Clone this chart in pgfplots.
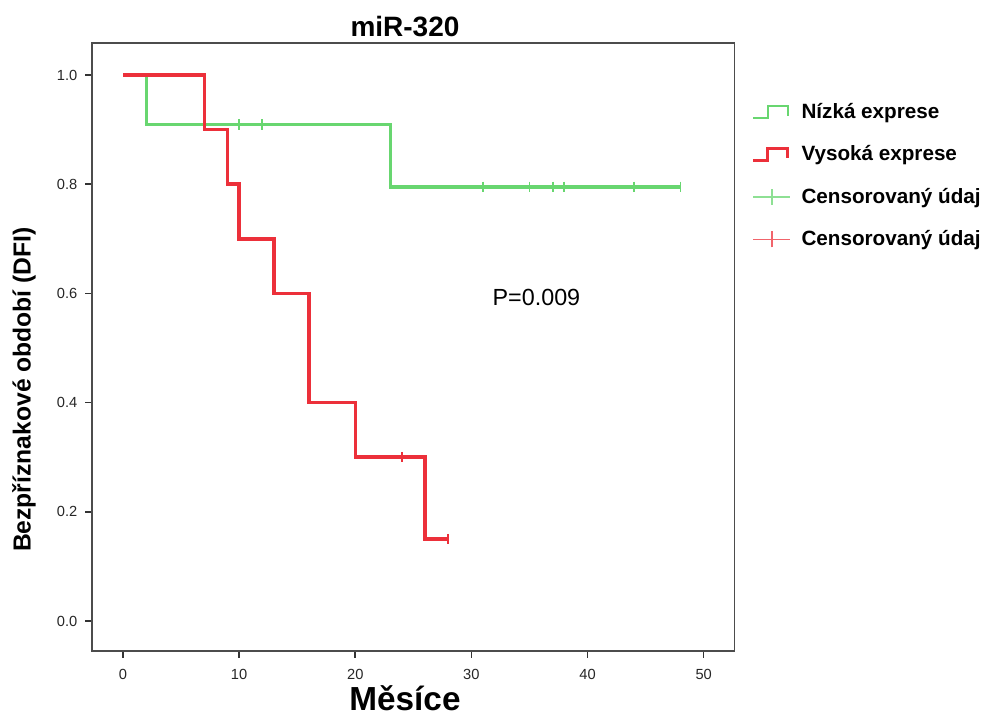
\documentclass[border=0pt]{standalone}
\usepackage{fontspec}
\setmainfont{Liberation Sans}
\usepackage{pgfplots}
\pgfplotsset{compat=1.18}

\definecolor{lowgreen}{RGB}{104,214,112}
\definecolor{highred}{RGB}{236,48,58}

\begin{document}
\begin{tikzpicture}
  \begin{axis}[
      scale only axis,
      width=482pt, height=456pt,
      xmin=-2.67, xmax=52.67,
      ymin=-0.055, ymax=1.0586,
      xtick={0,10,20,30,40,50},
      ytick={0,0.2,0.4,0.6,0.8,1.0},
      yticklabel style={/pgf/number format/fixed, /pgf/number format/fixed zerofill,
        /pgf/number format/precision=1, xshift=-2.5pt},
      xticklabel style={yshift=-5pt},
      /pgf/number format/assume math mode=true,
      tick label style={font=\fontsize{11}{13}\selectfont, text=black!85},
      tick align=outside, xtick pos=left, ytick pos=left,
      major tick length=5pt,
      every tick/.style={black!80, line width=1.2pt},
      axis line style={black!70, line width=1.1pt},
      title={miR-320},
      title style={font=\fontsize{21}{25}\selectfont\bfseries,
        at={(axis description cs:0.487,1.0145)}, anchor=center},
      xlabel={Měsíce},
      xlabel style={font=\fontsize{25}{29}\selectfont\bfseries,
        at={(axis description cs:0.487,-0.077)}, anchor=center},
      ylabel={Bezpříznakové období (DFI)},
      ylabel style={font=\fontsize{18.5}{22}\selectfont\bfseries,
        at={(axis description cs:-0.106,0.43)}, anchor=center},
      legend style={draw=none, fill=none, at={(rel axis cs:1.02,0.91)},
        anchor=north west, font=\fontsize{15.5}{18}\selectfont\bfseries,
        row sep=15pt, cells={anchor=west}},
    ]
    \coordinate (ll) at (rel axis cs:0,0);

    % Nizka exprese
    \addplot[const plot, lowgreen, line width=2.4pt,
      legend image code/.code={\draw[lowgreen, line width=1.8pt]
        (0pt,-4.5pt) -- (11pt,-4.5pt) -- (11pt,4.5pt) -- (26pt,4.5pt) -- (26pt,-3pt);
        \path (33pt,0pt);}]
      coordinates {(0,1) (2,0.909) (23,0.795) (48,0.795)};
    \addlegendentry{Nízká exprese}

    % Vysoka exprese
    \addplot[const plot, highred, line width=2.6pt,
      legend image code/.code={\draw[highred, line width=2pt]
        (0pt,-4.5pt) -- (11pt,-4.5pt) -- (11pt,4.5pt) -- (26pt,4.5pt) -- (26pt,-3pt);
        \path (33pt,0pt);}]
      coordinates {(0,1) (7,0.9) (9,0.8) (10,0.7) (13,0.6) (16,0.4) (20,0.3) (26,0.15) (28,0.15)};
    \addlegendentry{Vysoká exprese}

    % censored
    \addplot[only marks, mark=|, mark size=3.9pt, lowgreen, mark options={line width=1.4pt},
      legend image code/.code={\draw[lowgreen!75, line width=1.1pt] (0pt,0pt) -- (28pt,0pt);
        \draw[lowgreen!75, line width=1.1pt] (14pt,-6pt) -- (14pt,6pt);
        \path (33pt,0pt);}]
      coordinates {(10,0.909) (12,0.909) (31,0.795) (35,0.795) (37,0.795) (38,0.795) (44,0.795) (48,0.795)};
    \addlegendentry{Censorovaný údaj}

    \addplot[only marks, mark=|, mark size=3.9pt, highred, mark options={line width=1.4pt},
      legend image code/.code={\draw[highred!75, line width=1.1pt] (0pt,0pt) -- (28pt,0pt);
        \draw[highred!75, line width=1.1pt] (14pt,-6pt) -- (14pt,6pt);
        \path (33pt,0pt);}]
      coordinates {(24,0.3) (28,0.15)};
    \addlegendentry{Censorovaný údaj}

    \node[font=\fontsize{17.5}{20}\selectfont, anchor=center] at (axis cs:35.6,0.593) {P=0.009};
  \end{axis}
  \pgfresetboundingbox
  \path (ll) ++(-69pt,-50.25pt) rectangle ++(740.25pt,538.5pt);
\end{tikzpicture}
\end{document}
